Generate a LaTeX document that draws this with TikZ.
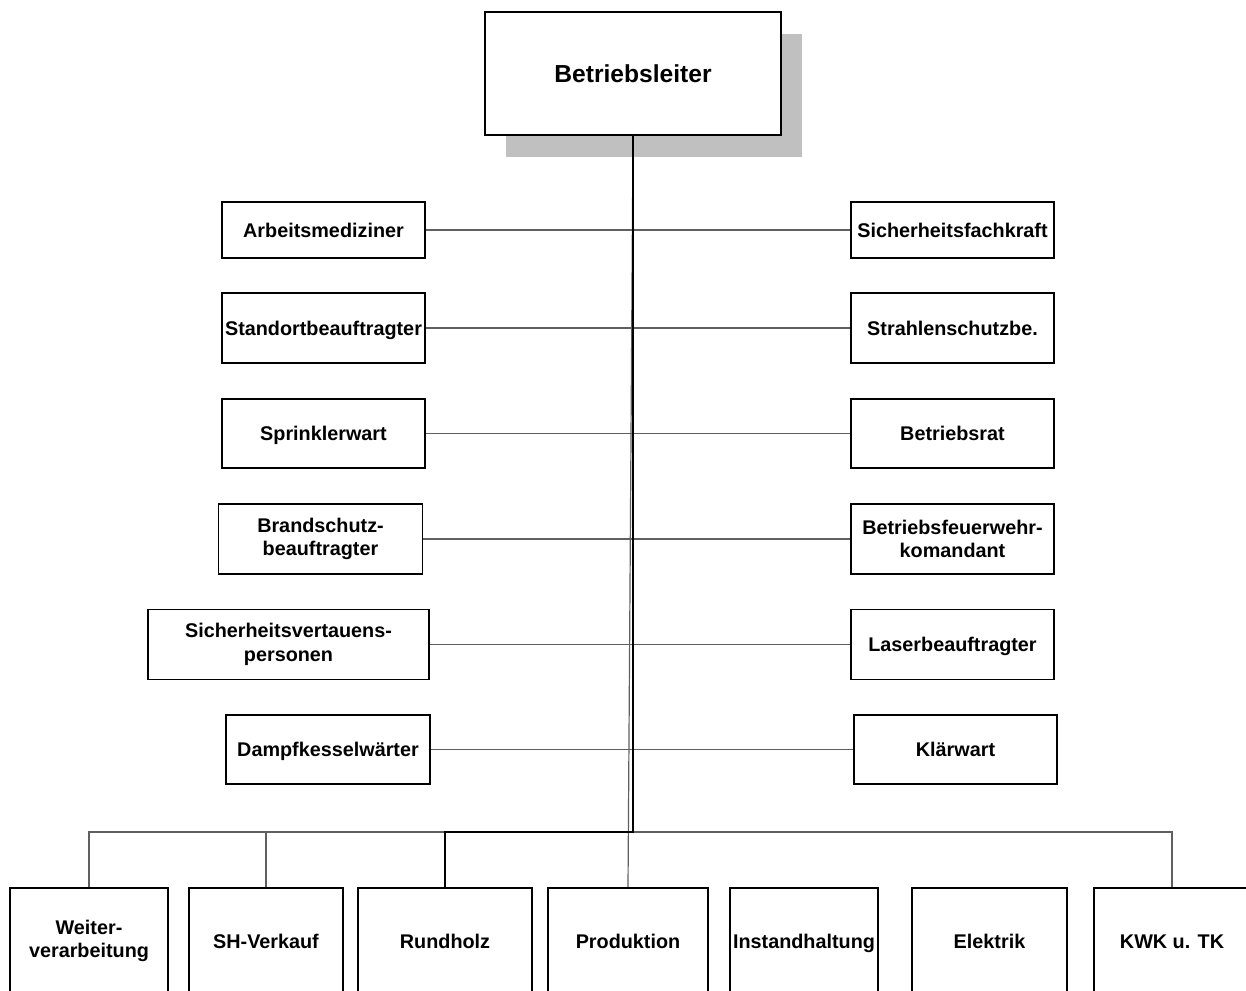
\documentclass[tikz,border=0pt]{standalone}
\usepackage{fontspec}
\setmainfont{Liberation Sans}
\usetikzlibrary{shadows}

\definecolor{shadowgray}{RGB}{192,192,192}
\definecolor{linkgray}{RGB}{96,96,96}

\begin{document}
\begin{tikzpicture}[x=1pt,y=-1pt,
  unit/.style={draw, line width=1.6pt, fill=white, align=center, inner sep=0pt,
    font=\fontsize{19.8}{23.5}\selectfont\bfseries},
  oneline/.style={text height=14.2pt, text depth=0pt},
  link/.style={draw=linkgray, line width=1.2pt},
  mainlink/.style={draw=black, line width=2.6pt}]
\useasboundingbox (0,0) rectangle (1246,990);

\node[unit, minimum width=296pt, minimum height=123pt,
  font=\fontsize{24.6}{28}\selectfont\bfseries, text height=17.6pt, text depth=0pt,
  drop shadow={shadow xshift=21pt, shadow yshift=-22pt, fill=shadowgray, opacity=1}]
  (leiter) at (633,73.5) {Betriebsleiter};



\node[unit, oneline, minimum width=203pt, minimum height=56pt] (arbmed) at (323.5,230) {Arbeitsmediziner};
\node[unit, oneline, minimum width=203pt, minimum height=70pt] (standort) at (323.5,328) {Standortbeauftragter};
\node[unit, oneline, minimum width=203pt, minimum height=69pt] (sprinkler) at (323.5,433.5) {Sprinklerwart};
\node[unit, minimum width=204pt, minimum height=70pt] (brand) at (320.5,539) {Brandschutz-\\beauftragter};
\node[unit, minimum width=281pt, minimum height=70pt] (vertrauen) at (288.5,644.5) {Sicherheitsvertauens-\\personen};
\node[unit, oneline, minimum width=204pt, minimum height=69pt] (dampf) at (328,749.5) {Dampfkesselwärter};

  \node[unit, oneline, minimum width=203pt, minimum height=56pt] (sifach) at (952.5,230) {Sicherheitsfachkraft};
  \node[unit, oneline, minimum width=203pt, minimum height=70pt] (strahlen) at (952.5,328) {Strahlenschutzbe.};
  \node[unit, oneline, minimum width=203pt, minimum height=69pt] (brat) at (952.5,433.5) {Betriebsrat};
  \node[unit, minimum width=203pt, minimum height=70pt] (feuerwehr) at (952.5,539) {Betriebsfeuerwehr-\\komandant};
  \node[unit, oneline, minimum width=203pt, minimum height=70pt] (laser) at (952.5,644.5) {Laserbeauftragter};
  \node[unit, oneline, minimum width=203pt, minimum height=69pt] (klaer) at (955.5,749.5) {Klärwart};



\node[unit, minimum width=158pt, minimum height=106pt] (weiter) at (89,941) {Weiter-\\verarbeitung};
\node[unit, oneline, minimum width=154pt, minimum height=106pt] (shverk) at (266,941) {SH-Verkauf};
\node[unit, oneline, minimum width=174pt, minimum height=106pt] (rundh) at (445,941) {Rundholz};
\node[unit, oneline, minimum width=160pt, minimum height=106pt] (prod) at (628,941) {Produktion};
\node[unit, oneline, minimum width=148pt, minimum height=106pt] (instand) at (804,941) {Instandhaltung};
\node[unit, oneline, minimum width=155pt, minimum height=106pt] (elek) at (989.5,941) {Elektrik};
\node[unit, oneline, minimum width=156pt, minimum height=106pt] (kwk) at (1172,941) {KWK u. TK};


\draw[link] (arbmed.east) -- (sifach.west);
\draw[link] (standort.east) -- (strahlen.west);
\draw[link] (sprinkler.east) -- (brat.west);
\draw[link] (brand.east) -- (feuerwehr.west);
\draw[link] (vertrauen.east) -- (laser.west);
\draw[link] (dampf.east) -- (klaer.west);

\coordinate (knot) at (633,832);

  \draw[link] (weiter.north) |- (knot) -| (kwk.north);
  \draw[link] (shverk.north) -- (shverk.north |- knot);
  \draw[link] (leiter.south) -- (prod.north);

\draw[mainlink] (leiter.south) -- (knot) -| (rundh.north);

\end{tikzpicture}
\end{document}
